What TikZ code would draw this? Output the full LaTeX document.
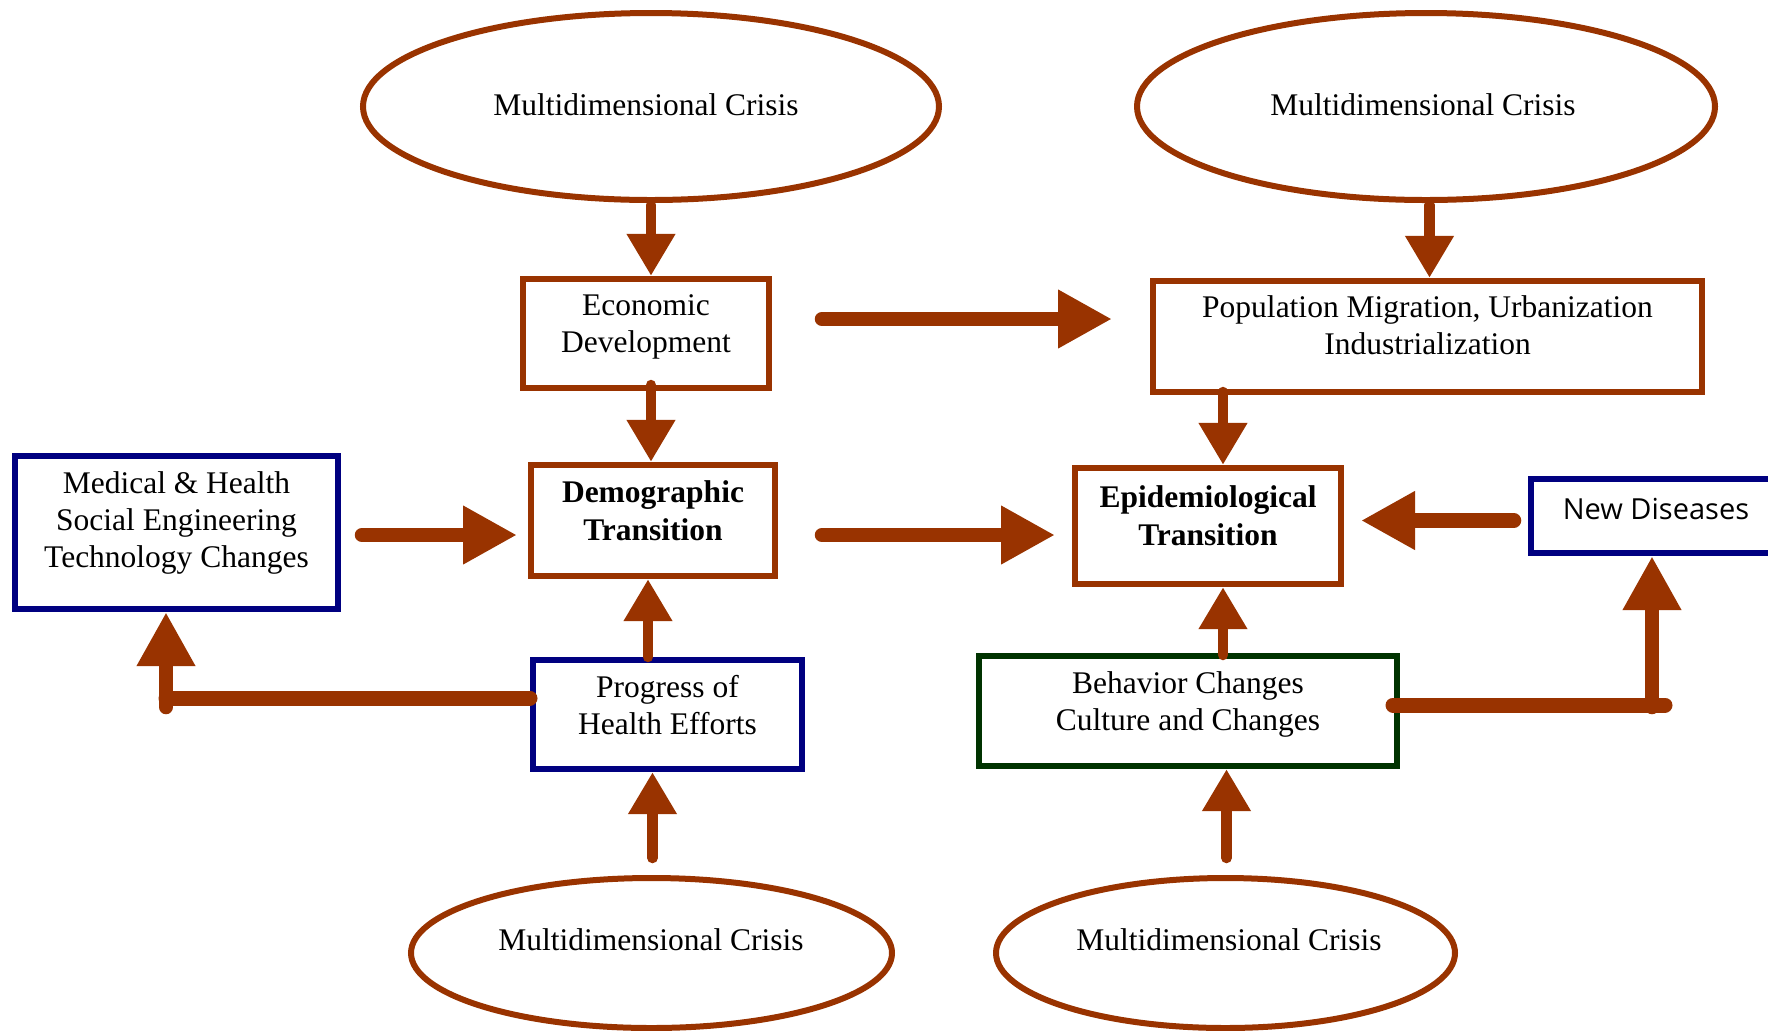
\documentclass[tikz,border=0pt]{standalone}
\usepackage{fontspec}
\setmainfont{Liberation Serif}
\newfontfamily\ndfont{Open Sans}
\usetikzlibrary{shapes.geometric,arrows.meta,calc}
\definecolor{brn}{HTML}{993300}
\definecolor{nvy}{HTML}{000080}
\definecolor{dgr}{HTML}{003300}
\begin{document}
\begin{tikzpicture}[x=0.5pt,y=-0.5pt,
  crisis/.style={ellipse, draw=brn, line width=3pt, inner sep=0pt},
  box/.style={rectangle, draw=#1, line width=2.9pt, inner sep=0pt, fill=white},
  lbl/.style={align=center, inner sep=0pt, font=\fontsize{15.75pt}{18.5pt}\selectfont},
  blbl/.style={align=center, inner sep=0pt, font=\fontsize{15.75pt}{19pt}\selectfont\bfseries},
  sarr/.style={draw=brn, line width=5.25pt, line cap=round, -{Triangle[length=21pt,width=23pt]}},
  barr/.style={draw=brn, line width=7.25pt, line cap=round, -{Triangle[length=27pt,width=27.5pt]}},
  bline/.style={draw=brn, line width=7.5pt, line cap=round},
]
\useasboundingbox (0,0) rectangle (1768,1030);
\clip (0,0) rectangle (1768,1030);

% crisis ellipses
\node[crisis, minimum width=288pt, minimum height=93.5pt] (tl) at (651,106.5) {};
\node[crisis, minimum width=289pt, minimum height=93.5pt] (tr) at (1426,106.5) {};
\node[crisis, minimum width=240.5pt, minimum height=75pt] (bl) at (651.5,953) {};
\node[crisis, minimum width=229.5pt, minimum height=75pt] (br) at (1225.5,953) {};
\node[lbl] (tl-t) at (646,105) {Multidimensional Crisis};
\node[lbl] (tr-t) at (1423,105) {Multidimensional Crisis};
\node[lbl] (bl-t) at (651,940) {Multidimensional Crisis};
\node[lbl] (br-t) at (1229,940) {Multidimensional Crisis};

% boxes
\node[box=brn, minimum width=123.25pt, minimum height=54.75pt] (econ) at (646,333.5) {};
\node[box=brn, minimum width=122.25pt, minimum height=55.75pt] (demo) at (653,520.5) {};
\node[box=brn, minimum width=274.75pt, minimum height=55.75pt] (pop) at (1427.5,336.5) {};
\node[box=nvy, minimum width=161.75pt, minimum height=76.75pt] (med) at (176.5,532.5) {};
\node[box=brn, minimum width=133.25pt, minimum height=58.25pt] (epi) at (1208,526) {};
\node[box=nvy, minimum width=134.75pt, minimum height=54.75pt] (prog) at (667.5,714.5) {};
\node[box=dgr, minimum width=209.25pt, minimum height=55.25pt] (beh) at (1188,711) {};
\node[box=nvy, minimum width=125.25pt, minimum height=37.25pt] (newd) at (1656,516) {};

\node[lbl] (econ-t) at ($(econ)+(0,-6.5)$) {Economic\\Development};
\node[blbl] (demo-t) at ($(demo)+(0,-9.5)$) {Demographic\\Transition};
\node[lbl] (pop-t) at ($(pop)+(0,-11.5)$) {Population Migration, Urbanization\\Industrialization};
\node[lbl] (med-t) at ($(med)+(0,-9.5)$) {Medical \& Health\\Social Engineering\\Technology Changes};
\node[blbl] (epi-t) at ($(epi)+(0,-10.5)$) {Epidemiological\\Transition};
\node[lbl] (prog-t) at ($(prog)+(0,-9.5)$) {Progress of\\Health Efforts};
\node[lbl] (beh-t) at ($(beh)+(0,-7)$) {Behavior Changes\\Culture and Changes};
\node[inner sep=0pt, font=\ndfont\fontsize{14.5pt}{17pt}\selectfont] (newd-t) at ($(newd)+(0,-7)$) {New Diseases};

% connector start points
\coordinate (a1) at (651,205);
\coordinate (a2) at (651,385);
\coordinate (a3s) at (822,319);
\coordinate (a3e) at (1112,319);
\coordinate (a4) at (1429.5,205);
\coordinate (a5) at (1223,392);
\coordinate (a6s) at (362,535);
\coordinate (a6e) at (517,535);
\coordinate (a7s) at (822,535);
\coordinate (a7e) at (1055,535);
\coordinate (a8s) at (1514,520.5);
\coordinate (a8e) at (1361,520.5);
\coordinate (a9) at (648,657);
\coordinate (a10a) at (530,698);
\coordinate (a10b) at (166,698);
\coordinate (a10c) at (166,707);
\coordinate (a11) at (652.5,858);
\coordinate (a12) at (1226.5,858);
\coordinate (a13) at (1223,655);
\coordinate (a14a) at (1393,705);
\coordinate (a14b) at (1665,705);
\coordinate (a14c) at (1652,707);

% connectors
\draw[sarr] (a1) -- (a1 |- econ.north);
\draw[sarr] (a2) -- (a2 |- demo.north);
\draw[barr] (a3s) -- (a3e);
\draw[sarr] (a4) -- (a4 |- pop.north);
\draw[sarr] (a5) -- (a5 |- epi.north);
\draw[barr] (a6s) -- (a6e);
\draw[barr] (a7s) -- (a7e);
\draw[barr] (a8s) -- (a8e);
\draw[sarr] (a9) -- (a9 |- demo.south);
\draw[bline] (a10a) -- (a10b);
\draw[barr] (a10c) -- (a10c |- med.south);
\draw[sarr] (a11) -- (a11 |- prog.south);
\draw[sarr] (a12) -- (a12 |- beh.south);
\draw[sarr] (a13) -- (a13 |- epi.south);
\draw[bline] (a14a) -- (a14b);
\draw[barr] (a14c) -- (a14c |- newd.south);
\end{tikzpicture}
\end{document}
